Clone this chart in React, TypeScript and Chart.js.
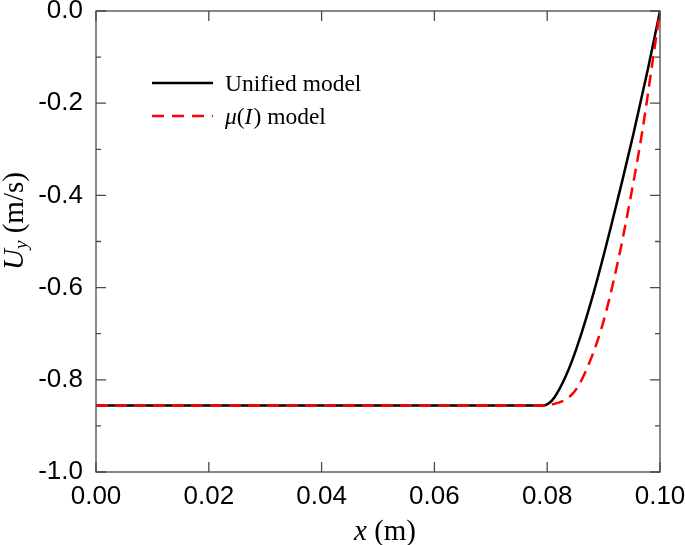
import { useEffect, useRef } from 'react';
import { Chart, registerables } from 'chart.js';

Chart.register(...registerables);

const xTicks = [0, 0.02, 0.04, 0.06, 0.08, 0.1];
const yTicks = [-1.0, -0.8, -0.6, -0.4, -0.2, 0.0];
const yMinorTicks = [-0.9, -0.7, -0.5, -0.3, -0.1];

const unifiedX = [0, 0.0793, 0.0803, 0.0813, 0.0833, 0.0853, 0.0883, 0.0913, 0.0953, 0.0978, 0.1];
const unifiedY = [-0.856, -0.856, -0.851, -0.838, -0.792, -0.728, -0.608, -0.468, -0.266, -0.129, 0];

const muX = [0, 0.0795, 0.081, 0.0826, 0.0846, 0.0864, 0.0897, 0.0926, 0.0947, 0.0969, 0.0988, 0.1];
const muY = [-0.856, -0.856, -0.853, -0.847, -0.829, -0.793, -0.685, -0.54, -0.41, -0.258, -0.1, 0];

const seriesNames = ['Unified model', 'model'];

const SANS = '"Liberation Sans", Arial, sans-serif';
const SERIF = '"Liberation Serif", "Times New Roman", serif';
const FRAME = '#4a4a4a';

const framePlugin = {
  id: 'frameAndText',
  afterDraw(chart: any) {
    const ctx = chart.ctx as CanvasRenderingContext2D;
    const { left, right, top, bottom } = chart.chartArea;
    const xs = chart.scales.x;
    const ys = chart.scales.y;
    ctx.save();
    ctx.strokeStyle = FRAME;
    ctx.lineWidth = 1.3;
    ctx.strokeRect(left, top, right - left, bottom - top);
    ctx.beginPath();
    for (const v of xTicks) {
      const px = xs.getPixelForValue(v);
      ctx.moveTo(px, bottom);
      ctx.lineTo(px, bottom - 10);
      ctx.moveTo(px, top);
      ctx.lineTo(px, top + 10);
    }
    for (const v of yTicks) {
      const py = ys.getPixelForValue(v);
      ctx.moveTo(left, py);
      ctx.lineTo(left + 10, py);
      ctx.moveTo(right, py);
      ctx.lineTo(right - 10, py);
    }
    for (const v of yMinorTicks) {
      const py = ys.getPixelForValue(v);
      ctx.moveTo(left, py);
      ctx.lineTo(left + 5, py);
      ctx.moveTo(right, py);
      ctx.lineTo(right - 5, py);
    }
    ctx.stroke();

    // legend
    const ly1 = 83;
    const ly2 = 116;
    const LF = 23.5;
    ctx.lineWidth = 2.5;
    ctx.strokeStyle = '#000';
    ctx.setLineDash([]);
    ctx.beginPath();
    ctx.moveTo(152, ly1);
    ctx.lineTo(213, ly1);
    ctx.stroke();
    ctx.strokeStyle = '#ff0000';
    ctx.setLineDash([12, 8]);
    ctx.beginPath();
    ctx.moveTo(152, ly2);
    ctx.lineTo(213, ly2);
    ctx.stroke();
    ctx.setLineDash([]);

    ctx.fillStyle = '#000';
    ctx.textBaseline = 'middle';
    ctx.textAlign = 'left';
    ctx.font = `${LF}px ${SERIF}`;
    ctx.fillText(seriesNames[0], 225, ly1 + 2);
    let tx = 225;
    ctx.font = `italic ${LF}px ${SERIF}`;
    ctx.fillText('μ', tx, ly2 + 2);
    tx += ctx.measureText('μ').width;
    ctx.font = `${LF}px ${SERIF}`;
    ctx.fillText('(', tx, ly2 + 2);
    tx += ctx.measureText('(').width;
    ctx.font = `italic ${LF}px ${SERIF}`;
    ctx.fillText('I', tx, ly2 + 2);
    tx += ctx.measureText('I').width + 1;
    ctx.font = `${LF}px ${SERIF}`;
    ctx.fillText(') ' + seriesNames[1], tx, ly2 + 2);

    // x title
    const TF = 29;
    ctx.font = `italic ${TF}px ${SERIF}`;
    const wx = ctx.measureText('x').width;
    ctx.font = `${TF}px ${SERIF}`;
    const wr = ctx.measureText(' (m)').width;
    const sx = 385 - (wx + wr) / 2;
    ctx.font = `italic ${TF}px ${SERIF}`;
    ctx.fillText('x', sx, 532);
    ctx.font = `${TF}px ${SERIF}`;
    ctx.fillText(' (m)', sx + wx, 532);

    // y title
    ctx.translate(15, 221);
    ctx.rotate(-Math.PI / 2);
    ctx.font = `italic ${TF}px ${SERIF}`;
    const wU = ctx.measureText('U').width;
    ctx.font = `italic 19px ${SERIF}`;
    const wy = ctx.measureText('y').width;
    ctx.font = `${TF}px ${SERIF}`;
    const wm = ctx.measureText(' (m/s)').width;
    const ux = -(wU + wy + wm) / 2;
    ctx.font = `italic ${TF}px ${SERIF}`;
    ctx.fillText('U', ux, 0);
    ctx.font = `italic 19px ${SERIF}`;
    ctx.fillText('y', ux + wU, 7);
    ctx.font = `${TF}px ${SERIF}`;
    ctx.fillText(' (m/s)', ux + wU + wy, 0);
    ctx.restore();
  },
};

export default function App() {
  const ref = useRef<HTMLCanvasElement>(null);
  useEffect(() => {
    const chart = new Chart(ref.current as HTMLCanvasElement, {
      type: 'line',
      data: {
        datasets: [
          {
            label: seriesNames[0],
            data: unifiedX.map((x, i) => ({ x, y: unifiedY[i] })),
            borderColor: '#000000',
            borderWidth: 2.5,
            pointRadius: 0,
            cubicInterpolationMode: 'monotone',
            order: 2,
          },
          {
            label: 'μ(I) ' + seriesNames[1],
            data: muX.map((x, i) => ({ x, y: muY[i] })),
            borderColor: '#ff0000',
            borderWidth: 2.5,
            borderDash: [12, 7],
            pointRadius: 0,
            cubicInterpolationMode: 'monotone',
            order: 1,
          },
        ],
      } as any,
      options: {
        responsive: false,
        animation: false,
        devicePixelRatio: 1,
        layout: { padding: { top: 11, right: 25, left: 0, bottom: 0 } },
        plugins: { legend: { display: false }, tooltip: { enabled: false } },
        scales: {
          x: {
            type: 'linear',
            min: 0,
            max: 0.1,
            afterBuildTicks: (s: any) => {
              s.ticks = xTicks.map((v) => ({ value: v }));
            },
            afterFit: (s: any) => {
              s.height = 73;
              s.paddingLeft = 0;
              s.paddingRight = 0;
            },
            grid: { display: false, drawTicks: false },
            border: { display: false },
            ticks: {
              font: { family: SANS, size: 26 },
              color: '#000',
              padding: 9,
              maxRotation: 0,
              autoSkip: false,
              callback: (v: any) => Number(v).toFixed(2),
            },
          },
          y: {
            type: 'linear',
            min: -1,
            max: 0,
            afterBuildTicks: (s: any) => {
              s.ticks = yTicks.map((v) => ({ value: v }));
            },
            afterFit: (s: any) => {
              s.width = 96;
              s.paddingTop = 0;
              s.paddingBottom = 0;
            },
            grid: { display: false, drawTicks: false },
            border: { display: false },
            ticks: {
              font: { family: SANS, size: 26 },
              color: '#000',
              padding: 13,
              autoSkip: false,
              callback: (v: any) => {
                const n = Number(v);
                return Math.abs(n) < 1e-9 ? '0.0' : n.toFixed(1);
              },
            },
          },
        },
      } as any,
      plugins: [framePlugin],
    });
    return () => chart.destroy();
  }, []);
  return (
    <div style={{ position: 'fixed', left: 0, top: 0, width: 685, height: 545, background: '#fff' }}>
      <canvas ref={ref} width={685} height={545} style={{ display: 'block' }} />
    </div>
  );
}
